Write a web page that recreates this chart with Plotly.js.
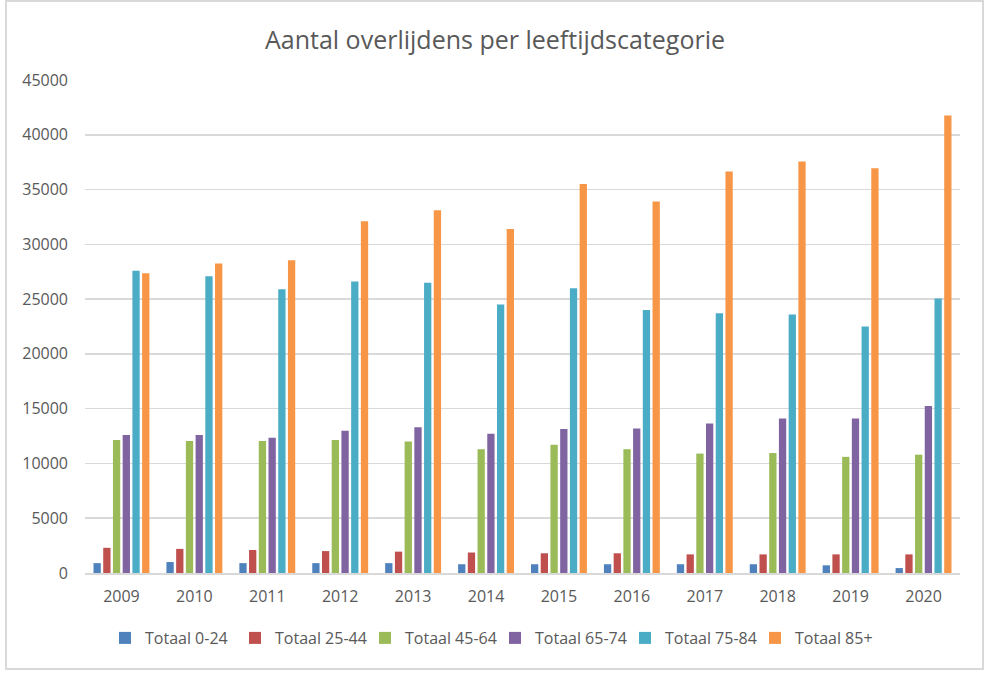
<!DOCTYPE html>
<html>
<head>
<meta charset="utf-8">
<script src="https://cdn.plot.ly/plotly-3.0.1.min.js"></script>
<style>
  html, body { margin: 0; padding: 0; background: #fff; }
  #wrap { position: relative; width: 990px; height: 680px; }
  #chart { width: 990px; height: 680px; }
  #frame {
    position: absolute; left: 5px; top: 0px; width: 975px; height: 666px;
    border: 2px solid #d9d9d9; pointer-events: none;
  }
</style>
</head>
<body>
<div id="wrap">
  <div id="chart"></div>
  <div id="frame"></div>
</div>
<script>
// Values (deaths per age band, 2009-2020)
const years = ["2009", "2010", "2011", "2012", "2013", "2014", "2015", "2016", "2017", "2018", "2019", "2020"];

const age0_24  = [900, 1000, 900, 900, 900, 800, 800, 800, 800, 800, 700, 450];
const age25_44 = [2300, 2200, 2100, 2000, 1950, 1870, 1800, 1800, 1700, 1700, 1700, 1700];
const age45_64 = [12150, 12050, 12050, 12150, 12000, 11300, 11700, 11300, 10900, 10950, 10600, 10800];
const age65_74 = [12600, 12600, 12350, 12980, 13300, 12700, 13150, 13200, 13650, 14100, 14100, 15250];
const age75_84 = [27600, 27080, 25900, 26600, 26500, 24500, 26000, 24000, 23700, 23600, 22500, 25050];
const age85up  = [27350, 28250, 28550, 32100, 33100, 31400, 35500, 33900, 36650, 37550, 36950, 41750];

const seriesNames  = ["Totaal 0-24", "Totaal 25-44", "Totaal 45-64", "Totaal 65-74", "Totaal 75-84", "Totaal 85+"];
const seriesValues = [age0_24, age25_44, age45_64, age65_74, age75_84, age85up];
const seriesColors = ["#4f81bd", "#c0504d", "#9bbb59", "#8064a2", "#4bacc6", "#f79646"];

const FONT = "'Open Sans', 'Noto Sans', 'DejaVu Sans', sans-serif";
const TXT = "#595959";

const data = seriesNames.map((name, i) => ({
  type: "bar",
  name: name,
  x: years,
  y: seriesValues[i],
  marker: { color: seriesColors[i], line: { width: 0 } },
  hoverinfo: "x+y+name",
}));

const layout = {
  width: 990, height: 680,
  paper_bgcolor: "#ffffff", plot_bgcolor: "#ffffff",
  font: { family: FONT, color: TXT, size: 15 },
  margin: { l: 85, r: 30, t: 80, b: 107 },
  barmode: "group",
  bargap: 0.2,
  bargroupgap: 0.25,
  title: {
    text: "Aantal overlijdens per leeftijdscategorie",
    font: { family: FONT, size: 25, color: TXT },
    x: 0.5, xref: "container", xanchor: "center",
    y: 1 - 40 / 680, yref: "container", yanchor: "middle",
  },
  xaxis: {
    type: "category",
    showgrid: false,
    showline: true, linecolor: "#d9d9d9", linewidth: 1.5,
    ticks: "", ticklabelstandoff: 8,
    tickfont: { size: 16, color: TXT },
    fixedrange: true,
  },
  yaxis: {
    range: [0, 45000],
    dtick: 5000, tickformat: "d",
    gridcolor: "#d9d9d9", gridwidth: 1.5,
    zeroline: false, showline: false,
    ticks: "", ticklabelstandoff: 16,
    tickfont: { size: 16, color: TXT },
    fixedrange: true,
  },
  showlegend: true,
  legend: {
    orientation: "h",
    xref: "container", x: 0.5, xanchor: "center",
    yref: "container", y: 1 - 638 / 680, yanchor: "middle",
    font: { size: 16, color: TXT },
    itemwidth: 30,
    entrywidth: 85, entrywidthmode: "pixels",
    traceorder: "normal",
  },
};

Plotly.newPlot("chart", data, layout, { displayModeBar: false, staticPlot: true });
</script>
</body>
</html>
